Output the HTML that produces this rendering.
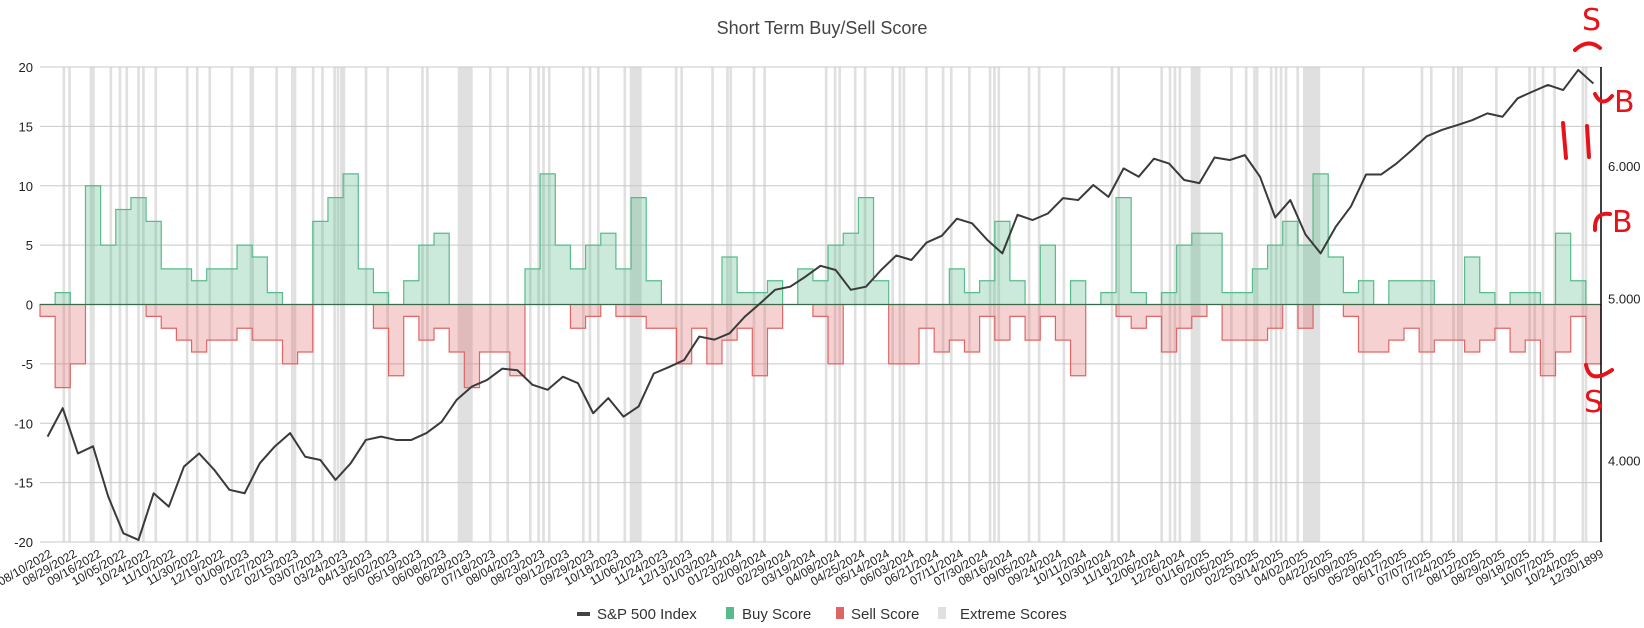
<!DOCTYPE html>
<html><head><meta charset="utf-8">
<style>
html,body{margin:0;padding:0;background:#fff;}
svg{display:block;font-family:"Liberation Sans",Arial,sans-serif;}
</style></head>
<body>
<svg id="chart" width="1644" height="628" viewBox="0 0 1644 628" xmlns="http://www.w3.org/2000/svg">
<rect width="1644" height="628" fill="#fff"/>
<text x="822" y="34" text-anchor="middle" font-size="18" fill="#444">Short Term Buy/Sell Score</text>
<g id="bands"></g>
<g id="grid"></g>
<g id="series"></g>
<g id="axes"></g>
<g id="xlabels"></g>
<g id="legend">
  <rect x="577" y="612" width="13" height="4" fill="#444"/>
  <text x="597" y="619" font-size="15" fill="#333">S&amp;P 500 Index</text>
  <rect x="726" y="607" width="8" height="12" fill="#57bb8a"/>
  <text x="742" y="619" font-size="15" fill="#333">Buy Score</text>
  <rect x="836" y="607" width="8" height="12" fill="#e06666"/>
  <text x="851" y="619" font-size="15" fill="#333">Sell Score</text>
  <rect x="938" y="607" width="8" height="12" fill="#e0e0e0"/>
  <text x="960" y="619" font-size="15" fill="#333">Extreme Scores</text>
</g>
<g id="annotations" stroke="#e8121a" stroke-width="4" fill="none" stroke-linecap="round">
  <path d="M1575 50 Q1588 38 1600 48"/>
  <path d="M1595 94 Q1602 108 1612 96"/>
  <path d="M1563 123 L1566 158"/>
  <path d="M1587 126 L1589 157"/>
  <path d="M1595 230 Q1594 212 1610 214"/>
  <path d="M1586 365 Q1590 385 1612 370"/>
</g>
<g fill="#e8121a" font-family="'DejaVu Sans',sans-serif" font-size="30">
  <text x="1582" y="30">S</text>
  <text x="1614" y="112">B</text>
  <text x="1612" y="232">B</text>
  <text x="1584" y="412">S</text>
</g>
</svg>
<script>
// ---- data (8-trading-day segments starting 08/10/2022) ----
const buyScore = [0,1,0,10,5,8,9,7,3,3,2,3,3,5,4,1,0,0,7,9,11,3,1,0,2,5,6,
 0,0,0,0,0,3,11,5,3,5,6,3,9,2,0,0,0,0,4,1,1,2,0,3,2,
 5,6,9,2,0,0,0,0,3,1,2,7,2,0,5,0,2,0,1,9,1,0,1,5,6,6,
 1,1,3,5,7,5,11,4,1,2,0,2,2,2,0,0,4,1,0,1,1,0,6,2,0];
const sellScore = [-1,-7,-5,0,0,0,0,-1,-2,-3,-4,-3,-3,-2,-3,-3,-5,-4,0,0,0,0,-2,-6,-1,-3,-2,
 -4,-7,-4,-4,-6,0,0,0,-2,-1,0,-1,-1,-2,-2,-5,-2,-5,-3,-2,-6,-2,0,0,-1,
 -5,0,0,0,-5,-5,-2,-4,-3,-4,-1,-3,-1,-3,-1,-3,-6,0,0,-1,-2,-1,-4,-2,-1,0,
 -3,-3,-3,-2,0,-2,0,0,-1,-4,-4,-3,-2,-4,-3,-3,-4,-3,-2,-4,-3,-6,-4,-1,-5];
const sp500 = [4135,4300,4040,4080,3808,3620,3587,3825,3755,3968,4040,3950,3843,3825,3986,4080,4155,4022,4004,3896,3986,4116,4135,4116,4116,4155,4220,
 4350,4430,4470,4540,4530,4440,4410,4490,4450,4270,4360,4250,4310,4510,4550,4594,4745,4725,4766,4876,4965,5060,5082,5152,5230,
 5200,5060,5082,5200,5305,5272,5400,5450,5580,5545,5420,5320,5610,5570,5620,5740,5725,5845,5750,5980,5912,6060,6020,5885,5860,6070,
 6049,6090,5912,5590,5725,5460,5320,5519,5675,5930,5930,6020,6130,6250,6305,6346,6390,6450,6420,6585,6647,6707,6660,6847,6720];
// extreme score bands: start day, length in days
const bandStart = [11.9,14.9,26.2,27.5,36.7,41.5,45.1,51.3,53.9,60.4,77,82.3,88.9,100.6,110.6,111.6,124.2,132.5,133.9,143.5,148.4,154.8,156.6,158.4,159.7,171.4,182.8,201.2,203.8,
 220.5,237,246.2,258.1,262.5,265.1,268.1,286.1,289.6,294,308,311.3,335.1,338,354.3,362.2,363.9,376.2,381.8,
 414.3,419,421.4,429.6,434.8,449.4,453.2,455.3,467.2,476,480.3,489.9,500.8,503.1,505.4,521.4,526.7,539.8,565.2,568.7,591.4,595.8,598.4,601,607.4,
 628.2,636,640.4,641.8,649.2,651.8,654.4,657,663.2,666.7,697.8,728.8,733.7,745.4,748,749.7,768.1,785.6,788.3,792.7,798.8,813.7,815.4];
const bandLen = bandStart.map((d,i)=>[220.5,311.3,607.4,666.7].includes(d)?({220.5:7.9,311.3:6.3,607.4:5.2,666.7:9.1})[d]:1.4);
const leftTicks = [20,15,10,5,0,-5,-10,-15,-20];
const rightTicks = [6000,5000,4000];
const rightTickLabels = ["6.000","5.000","4.000"];
const xLabels = ["08/10/2022","08/29/2022","09/16/2022","10/05/2022","10/24/2022","11/10/2022","11/30/2022","12/19/2022","01/09/2023","01/27/2023","02/15/2023","03/07/2023","03/24/2023","04/13/2023","05/02/2023","05/19/2023","06/08/2023","06/28/2023","07/18/2023","08/04/2023","08/23/2023","09/12/2023","09/29/2023","10/18/2023","11/06/2023","11/24/2023","12/13/2023","01/03/2024","01/23/2024","02/09/2024","02/29/2024","03/19/2024","04/08/2024","04/25/2024","05/14/2024","06/03/2024","06/21/2024","07/11/2024","07/30/2024","08/16/2024","09/05/2024","09/24/2024","10/11/2024","10/30/2024","11/18/2024","12/06/2024","12/26/2024","01/16/2025","02/05/2025","02/25/2025","03/14/2025","04/02/2025","04/22/2025","05/09/2025","05/29/2025","06/17/2025","07/07/2025","07/24/2025","08/12/2025","08/29/2025","09/18/2025","10/07/2025","10/24/2025","12/30/1899"];

// ---- layout ----
const NS="http://www.w3.org/2000/svg";
const L=40,R=1601,T=67,B=542;
const SEG=8, totalDays=buyScore.length*SEG;
const xDay=d=>L+d*(R-L)/totalDays;
const yL=v=>T+(20-v)*(B-T)/40;
const y0=yL(0);
const yR=v=>298.5-727*Math.log(v/5000);
function mk(tag,attrs,parent){const e=document.createElementNS(NS,tag);for(const k in attrs)e.setAttribute(k,attrs[k]);parent.appendChild(e);return e;}

// bands
const gB=document.getElementById('bands');
bandStart.forEach((d,i)=>{
  const r=mk('rect',{x:xDay(d),y:T,width:Math.max(2,xDay(d+bandLen[i])-xDay(d)),height:B-T,fill:'#e0e0e0'},gB);
  
  
});
// grid
const gG=document.getElementById('grid');
leftTicks.forEach(v=>{
  const ln=mk('line',{x1:L,x2:R,y1:yL(v),y2:yL(v),stroke:'#c8c8c8','stroke-width':1},gG);
  
  
  const t=mk('text',{x:33,y:yL(v)+5,'text-anchor':'end','font-size':13,fill:'#222'},gG);
  t.textContent=v;
  
  
});
// step series
const gS=document.getElementById('series');
function stepPath(arr){
  let d=`M${xDay(0)},${y0}`;
  arr.forEach((v,i)=>{d+=` L${xDay(i*SEG)},${yL(v)} L${xDay((i+1)*SEG)},${yL(v)}`;});
  return d;
}
const buyArea=mk('path',{d:stepPath(buyScore)+` L${xDay(totalDays)},${y0} Z`,fill:'rgba(87,187,138,0.3)',stroke:'#57bb8a','stroke-width':1.2},gS);


const sellArea=mk('path',{d:stepPath(sellScore)+` L${xDay(totalDays)},${y0} Z`,fill:'rgba(224,102,102,0.3)',stroke:'#e06666','stroke-width':1.2},gS);


const zl=mk('line',{x1:L,x2:R,y1:y0,y2:y0,stroke:'#3a6a4a','stroke-width':1},gS);


// S&P line
let sd='';
sp500.forEach((v,i)=>{sd+=(i?' L':'M')+xDay(i*SEG+SEG/2)+','+yR(v);});
const spl=mk('path',{d:sd,fill:'none',stroke:'#3a3a3a','stroke-width':2,'stroke-linejoin':'round'},gS);


// right axis
const gA=document.getElementById('axes');
const ra=mk('line',{x1:R,x2:R,y1:T,y2:B,stroke:'#000','stroke-width':1.5},gA);


rightTicks.forEach((v,i)=>{
  const t=mk('text',{x:1608,y:yR(v)+5,'font-size':13,fill:'#222'},gA);
  t.textContent=rightTickLabels[i];
  
  
});
// x labels
const gX=document.getElementById('xlabels');
xLabels.forEach((s,k)=>{
  const x=xDay(13*k+0.5)+12, y=B+14;
  const t=mk('text',{x:x,y:y,'text-anchor':'end','font-size':12,fill:'#222',transform:`rotate(-30 ${x} ${y})`},gX);
  t.textContent=s;
  
  
});
</script>
</body></html>
